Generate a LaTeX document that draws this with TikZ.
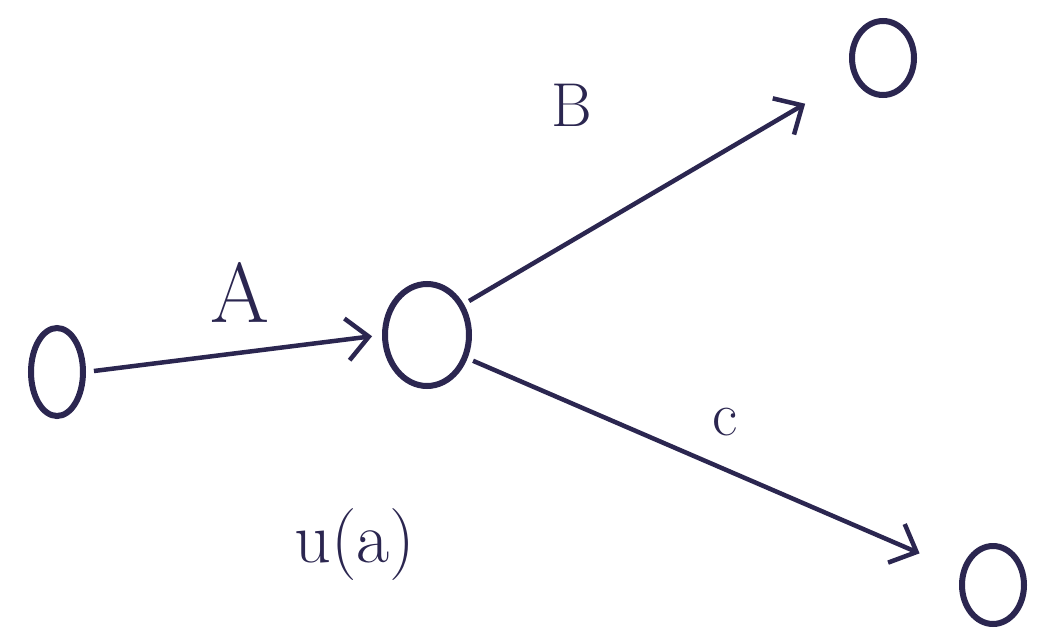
\documentclass[tikz,border=0pt]{standalone}
\usetikzlibrary{shapes.geometric,arrows.meta}
\definecolor{ink}{HTML}{2B2650}
\begin{document}
\begin{tikzpicture}[x=1pt,y=-1pt,
  st/.style={draw=ink,line width=6pt,ellipse,inner sep=0pt},
  conn/.style={draw=ink,line width=4.5pt,-{Straight Barb[length=22pt,width=42pt]}},
  lbl/.style={text=ink,font=\fontsize{#1}{#1}\selectfont}]
\useasboundingbox (0,0) rectangle (1042,635);
\fill[white] (0,0) rectangle (1042,635);
\node[st,minimum width=52pt,minimum height=88pt] (s0) at (57,372) {};
\node[st,minimum width=84pt,minimum height=102pt] (s1) at (427,335) {};
\node[st,minimum width=62pt,minimum height=74pt] (s2) at (883,58) {};
\node[st,minimum width=62pt,minimum height=78pt] (s3) at (993,585) {};
\draw[conn,shorten >=10pt,shorten <=8pt] (s0.east) -- (s1.west);
\draw[conn,shorten >=55pt,shorten <=6pt] (s1.40) -- (s2);
\draw[conn,shorten >=45pt,shorten <=6pt] (s1.-30) -- (s3);
\node[lbl=85] (la) at (240,292) {A};
\node[lbl=62] (lb) at (572,105) {B};
\node[lbl=62] (lc) at (725,422) {c};
\node[lbl=72] (lu) at (355,545) {u(a)};
\end{tikzpicture}
\end{document}
